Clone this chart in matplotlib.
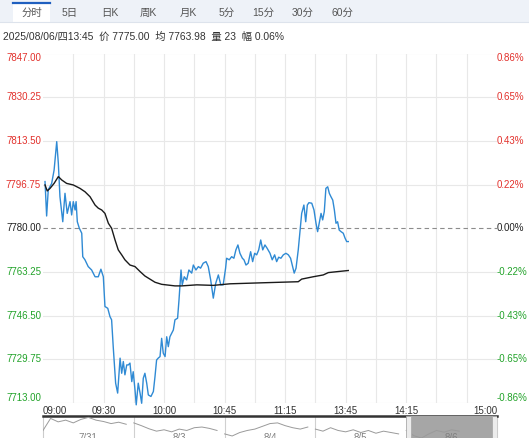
import matplotlib
matplotlib.use("Agg")
import matplotlib.pyplot as plt
from matplotlib.patches import Rectangle

plt.rcParams['font.family'] = ['Liberation Sans', 'Noto Sans CJK SC', 'DejaVu Sans']

# ---- data ----
prev_close = 7780.00
levels = [7847.00, 7830.25, 7813.50, 7796.75, 7780.00, 7763.25, 7746.50, 7729.75, 7713.00]

tabs = ["分时", "5日", "日K", "周K", "月K", "5分", "15分", "30分", "60分"]
info = "2025/08/06/四13:45  价 7775.00  均 7763.98  量 23  幅 0.06%"

# trading minutes from 09:00 (10:15-10:30 and 11:30-13:30 removed), 225 = 15:00
time_ticks = [0, 30, 60, 90, 120, 150, 180, 225]
time_labels = ["09:00", "09:30", "10:00", "10:45", "11:15", "13:45", "14:15", "15:00"]

price_min = [1.0, 1.8, 2.6, 4.3, 5.5, 6.8, 7.6, 8.4, 9.8, 10.9, 12.0, 13.4, 14.2, 15.0,
             15.9, 16.4, 17.0, 18.0, 19.2, 19.7, 20.8, 22.4, 24.1, 25.8, 27.4, 28.7,
             29.9, 30.7, 32.1, 33.2, 34.0, 34.8, 36.0, 37.0, 38.2, 39.0, 39.8, 40.6,
             41.5, 42.3, 43.1, 44.0, 44.7, 45.6, 46.2, 47.2, 48.1, 48.9, 49.7, 50.5,
             51.4, 52.2, 53.5, 54.7, 55.5, 56.3, 57.1, 58.0, 58.8, 59.6, 60.5, 61.3,
             62.1, 62.9, 63.8, 64.6, 65.4, 66.7, 67.4, 68.4, 69.0, 70.0, 71.2, 72.3,
             73.7, 74.5, 75.8, 77.0, 78.1, 79.4, 80.8, 81.9, 83.1, 84.4, 85.6, 86.9,
             88.1, 89.3, 90.5, 91.0, 92.3, 93.5, 94.6, 95.6, 96.6, 97.6, 98.8, 99.6,
             100.6, 101.7, 102.9, 103.9, 104.9, 105.9, 106.9, 107.9, 108.9, 110.0,
             111.1, 112.5, 113.6, 114.8, 115.8, 116.8, 117.9, 119.1, 120.4, 121.6,
             122.7, 123.7, 124.5, 125.4, 126.5, 127.4, 128.2, 129.3, 130.2, 131.0,
             131.8, 133.2, 134.3, 135.3, 136.1, 136.9, 137.8, 138.6, 139.4, 140.2,
             141.1, 141.9, 142.7, 143.6, 144.4, 145.2, 146.0, 146.8, 147.7, 148.8,
             149.7, 150.5, 151.3]
price_val = [7797.9, 7784.7, 7794.7, 7797.2, 7802.3, 7813.2, 7804.9, 7792.1, 7782.5,
             7793.4, 7785.7, 7790.2, 7785.1, 7790.2, 7787.0, 7790.2, 7782.5, 7780.0,
             7778.1, 7769.1, 7767.9, 7765.3, 7764.0, 7761.4, 7761.4, 7764.3, 7761.4,
             7750.0, 7749.3, 7746.1, 7744.9, 7734.6, 7720.6, 7716.8, 7730.2, 7724.4,
             7728.9, 7723.8, 7727.6, 7727.6, 7728.3, 7721.2, 7725.0, 7718.0, 7712.3,
             7720.6, 7716.8, 7712.9, 7722.5, 7724.4, 7720.6, 7716.1, 7715.5, 7717.4,
             7723.1, 7729.5, 7730.2, 7730.8, 7737.8, 7732.1, 7730.8, 7738.4, 7734.6,
             7738.4, 7739.8, 7741.0, 7744.9, 7745.5, 7752.5, 7764.0, 7758.3, 7761.4,
             7760.2, 7764.0, 7762.8, 7765.9, 7764.0, 7765.3, 7764.7, 7766.6, 7767.2,
             7765.3, 7760.2, 7753.2, 7758.9, 7762.1, 7758.3, 7758.3, 7764.7, 7768.5,
             7767.9, 7769.1, 7768.5, 7771.7, 7773.6, 7770.4, 7768.5, 7767.9, 7765.9,
             7766.6, 7771.0, 7767.2, 7770.4, 7769.8, 7771.7, 7775.5, 7771.7, 7773.6,
             7772.3, 7770.4, 7767.9, 7769.8, 7767.2, 7768.9, 7768.5, 7769.8, 7770.4,
             7769.8, 7768.5, 7765.3, 7762.8, 7764.7, 7771.7, 7779.3, 7785.7, 7788.9,
             7782.5, 7788.9, 7789.8, 7789.6, 7787.0, 7781.9, 7778.7, 7781.9, 7785.7,
             7783.2, 7786.4, 7795.3, 7795.9, 7793.4, 7792.1, 7790.8, 7787.0, 7781.9,
             7782.5, 7779.3, 7778.7, 7778.1, 7776.2, 7774.9, 7774.9]

avg_min = [1.0, 2.1, 3.5, 5.5, 7.6, 9.3, 11.7, 15.0, 18.3, 20.8, 23.3, 25.8, 27.4, 29.1,
           30.7, 32.4, 34.0, 35.7, 37.3, 39.0, 40.6, 43.1, 45.6, 48.1, 50.5, 53.0, 55.5,
           58.8, 62.1, 65.4, 68.7, 76.2, 84.4, 92.7, 109.2, 126.5, 128.2, 133.9, 138.9,
           141.4, 146.3, 151.3]
avg_val = [7796.6, 7794.3, 7795.3, 7797.2, 7799.8, 7798.5, 7797.2, 7796.6, 7795.3,
           7794.0, 7792.1, 7788.9, 7787.7, 7787.0, 7785.7, 7781.9, 7780.0, 7775.5,
           7771.7, 7769.8, 7767.9, 7765.9, 7765.3, 7763.4, 7761.7, 7760.5, 7759.3,
           7758.5, 7758.2, 7757.9, 7757.9, 7758.3, 7758.1, 7758.7, 7759.1, 7759.5,
           7760.5, 7761.4, 7762.1, 7763.0, 7763.4, 7763.8]

# navigator: five sessions
nav_days = ["7/31", "8/3", "8/4", "8/5", "8/6"]
nav_vals = [
    [7820, 7890, 7870, 7880, 7864, 7884, 7896, 7880, 7872, 7860, 7868, 7856],
    [7864, 7848, 7830, 7816, 7824, 7812, 7828, 7820, 7836, 7840, 7832, 7820],
    [7800, 7788, 7808, 7820, 7828, 7844, 7860, 7864, 7848, 7836, 7828, 7840],
    [7828, 7816, 7836, 7820, 7812, 7824, 7808, 7820, 7804, 7816, 7808, 7800],
    [7820, 7790, 7776, 7800, 7820, 7810, 7824, 7816],
]

RED = '#e2302b'
GREEN = '#22a32a'
BLACK = '#222222'
GRID = '#e8e8e8'

W, H = 529, 438
fig = plt.figure(figsize=(W / 100, H / 100), dpi=100)

# ---- header (pixel coordinates) ----
hdr = fig.add_axes([0, 0, 1, 1])
hdr.set_xlim(0, W)
hdr.set_ylim(H, 0)
hdr.axis('off')
hdr.add_patch(Rectangle((0, 0), W, 22, facecolor='#eef2f8', edgecolor='none'))
hdr.plot([0, W], [22, 22], color='#dde3ec', lw=0.8)
hdr.add_patch(Rectangle((13, 2), 37, 20.5, facecolor='white', edgecolor='none'))
hdr.plot([13, 50], [2.5, 2.5], color='#1f5fbf', lw=1.6)
tab_x = [32, 70, 110, 148, 188, 227, 263, 303, 342]
for tx, t in zip(tab_x, tabs):
    hdr.text(tx, 13, t, ha='center', va='center', fontsize=7.5, color='#555555')
hdr.text(3, 37, info, ha='left', va='center', fontsize=7.4, color='#333333')

# ---- main chart ----
ax = fig.add_axes([43 / W, 1 - 403 / H, (497 - 43) / W, (403 - 53.5) / H])
ax.set_xlim(0, 225)
ax.set_ylim(levels[-1], levels[0])
for s in ax.spines.values():
    s.set_visible(False)
ax.set_xticks([])
ax.set_yticks([])

for m in range(15, 225, 15):
    ax.axvline(m, color=GRID, lw=0.8, zorder=0)

for i, lv in enumerate(levels):
    if lv == prev_close:
        ax.axhline(lv, color='#8c8c8c', lw=0.8, dashes=(4, 3), zorder=1)
        col = BLACK
    else:
        ax.axhline(lv, color=GRID, lw=0.8, zorder=0)
        col = RED if lv > prev_close else GREEN
    va = 'top' if i == 0 else ('bottom' if i == len(levels) - 1 else 'center')
    pct = (lv - prev_close) / prev_close * 100
    ax.annotate(f"{lv:.2f}", xy=(0, lv), xycoords=ax.get_yaxis_transform(),
                xytext=(-2, 0), textcoords='offset pixels', ha='right', va=va,
                fontsize=7, color=col)
    ax.annotate(f"{pct:.2f}%", xy=(1, lv), xycoords=ax.get_yaxis_transform(),
                xytext=(0, 0), textcoords='offset pixels', ha='left', va=va,
                fontsize=7, color=col)

ax.plot(price_min, price_val, color='#2f8ad4', lw=1.0, zorder=3, clip_on=False)
ax.plot(avg_min, avg_val, color='#1a1a1a', lw=1.0, zorder=3)

for i, (m, lab) in enumerate(zip(time_ticks, time_labels)):
    ha = 'left' if i == 0 else ('right' if i == len(time_ticks) - 1 else 'center')
    ax.annotate(lab, xy=(m, 0), xycoords=ax.get_xaxis_transform(),
                xytext=(0, -8), textcoords='offset pixels', ha=ha, va='center',
                fontsize=7, color='#333333')

# ---- navigator ----
nav = fig.add_axes([43 / W, 1 - 447 / H, (497 - 43) / W, 31 / H])
day_len = 225
nav.set_xlim(0, day_len * len(nav_days))
nav.set_ylim(7724, 7904)
nav.set_xticks([])
nav.set_yticks([])
for k, s in nav.spines.items():
    s.set_color('#cccccc')
    s.set_linewidth(0.8)
nav.spines['top'].set_color('#333333')
nav.spines['top'].set_linewidth(1.8)

for d, vals in enumerate(nav_vals):
    step = day_len / 12
    xs = [d * day_len + j * step for j in range(len(vals))]
    nav.plot(xs, vals, color='#9a9a9a', lw=0.7, zorder=4)
    nav.text(d * day_len + day_len / 2, 0.3, nav_days[d], transform=nav.get_xaxis_transform(),
             ha='center', va='center', fontsize=7, color='#808080', zorder=5)
    if 0 < d < len(nav_vals) - 1:
        nav.axvline(d * day_len, color='#d0d0d0', lw=0.8, zorder=1)

sel0 = day_len * (len(nav_days) - 1)
sel1 = day_len * len(nav_days)
hw = 12
nav.axvspan(sel0 + hw, sel1 - hw, color='#a6a6a6', zorder=3)
for hx in (sel0, sel1 - hw):
    nav.add_patch(Rectangle((hx, 7724), hw, 180, facecolor='#ececec',
                            edgecolor='#aaaaaa', lw=0.6, zorder=6))

fig.savefig("out.png", dpi=100)
